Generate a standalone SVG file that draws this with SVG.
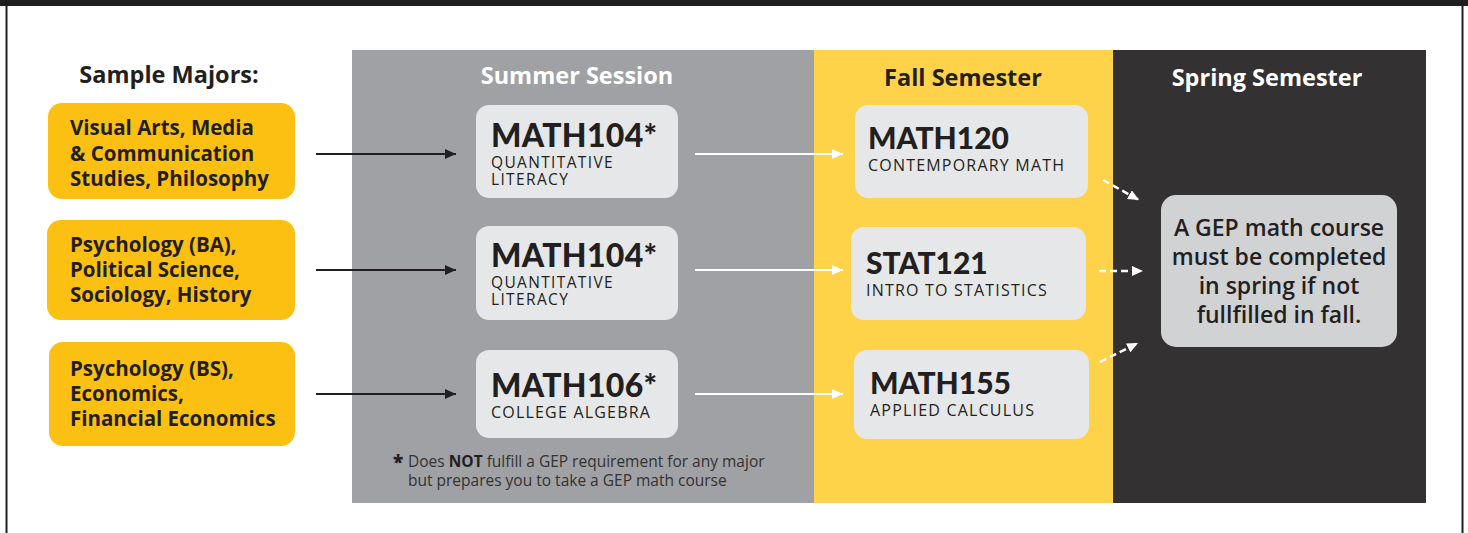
<svg xmlns="http://www.w3.org/2000/svg" width="1468" height="533" viewBox="0 0 1468 533">
<style>
.f{font-family:"Open Sans","Liberation Sans",sans-serif}
.g{font-family:Lato,"Liberation Sans",sans-serif}
.maj{fill:#FBC012}
.course{fill:#E6E7E8}
.mt{font-weight:700;font-size:20.5px;fill:#231F20}
.code{font-weight:900;font-size:32px;fill:#231F20;letter-spacing:0.3px}
.code2{font-weight:900;font-size:30px;fill:#231F20}
.sub{font-weight:400;font-size:16px;fill:#231F20;letter-spacing:1.2px}
.sub2{font-weight:400;font-size:15.5px;fill:#231F20;letter-spacing:1.35px}
.hdr{font-weight:700;font-size:23.5px;text-anchor:middle}
.note{font-weight:600;font-size:23px;fill:#231F20;text-anchor:middle}
.foot{font-weight:400;font-size:15.5px;fill:#333132}
.blk{stroke:#231F20;stroke-width:2;fill:none}
.wht{stroke:#FFFFFF;stroke-width:2;fill:none}
.dash{stroke:#FFFFFF;stroke-width:2.5;fill:none;stroke-dasharray:7 4}
</style>
<defs>
<marker id="ab" markerUnits="userSpaceOnUse" markerWidth="11" markerHeight="10" refX="11" refY="5" orient="auto"><path d="M0,0 L11,5 L0,10 z" fill="#231F20"/></marker>
<marker id="aw" markerUnits="userSpaceOnUse" markerWidth="11" markerHeight="10" refX="11" refY="5" orient="auto"><path d="M0,0 L11,5 L0,10 z" fill="#FFFFFF"/></marker>
</defs>
<rect x="0" y="0" width="1468" height="533" fill="#FFFFFF"/>
<g id="frame">
<rect x="0" y="0" width="1468" height="6" fill="#231F20"/>
<rect x="5.5" y="0" width="2" height="533" fill="#231F20"/>
<rect x="1461.5" y="0" width="2" height="533" fill="#231F20"/>
</g>
<g id="panels">
<rect x="352" y="50" width="462" height="453" fill="#A0A1A4"/>
<rect x="814" y="50" width="299" height="453" fill="#FED249"/>
<rect x="1113" y="50" width="313" height="453" fill="#333132"/>
<text class="f hdr" x="577" y="84" fill="#FFFFFF">Summer Session</text>
<text class="f hdr" x="963" y="86" fill="#231F20">Fall Semester</text>
<text class="f hdr" x="1267" y="86" fill="#FFFFFF">Spring Semester</text>
</g>
<text class="f" x="169" y="83" font-size="23.5" font-weight="700" fill="#231F20" text-anchor="middle">Sample Majors:</text>
<g id="major1">
<rect class="maj" x="48" y="103" width="247" height="96" rx="14"/>
<text class="f mt" x="70" y="135">Visual Arts, Media</text>
<text class="f mt" x="70" y="161">&amp; Communication</text>
<text class="f mt" x="70" y="186">Studies, Philosophy</text>
</g>
<g id="major2">
<rect class="maj" x="47" y="220" width="248" height="100" rx="14"/>
<text class="f mt" x="70" y="252">Psychology (BA),</text>
<text class="f mt" x="70" y="277">Political Science,</text>
<text class="f mt" x="70" y="302">Sociology, History</text>
</g>
<g id="major3">
<rect class="maj" x="49" y="342" width="246" height="104" rx="14"/>
<text class="f mt" x="70" y="376">Psychology (BS),</text>
<text class="f mt" x="70" y="401">Economics,</text>
<text class="f mt" x="70" y="426">Financial Economics</text>
</g>
<g id="sum1">
<rect class="course" x="476" y="105" width="202" height="93" rx="13"/>
<text class="g code" x="491" y="147">MATH104*</text>
<text class="f sub2"><tspan x="491" y="168">QUANTITATIVE</tspan><tspan x="491" y="185">LITERACY</tspan></text>
</g>
<g id="sum2">
<rect class="course" x="476" y="226" width="202" height="94" rx="13"/>
<text class="g code" x="491" y="267">MATH104*</text>
<text class="f sub2"><tspan x="491" y="288">QUANTITATIVE</tspan><tspan x="491" y="305">LITERACY</tspan></text>
</g>
<g id="sum3">
<rect class="course" x="476" y="350" width="202" height="88" rx="13"/>
<text class="g code" x="491" y="397">MATH106*</text>
<text class="f sub" x="491" y="418">COLLEGE ALGEBRA</text>
</g>
<g id="footnote">
<text class="f foot"><tspan x="393" y="469" font-size="19" font-weight="800" fill="#231F20">*</tspan><tspan x="408" y="467">Does </tspan><tspan font-weight="700" fill="#231F20">NOT</tspan><tspan> fulfill a GEP requirement for any major</tspan><tspan x="408" y="486">but prepares you to take a GEP math course</tspan></text>
</g>
<g id="fall1">
<rect class="course" x="855" y="105" width="233" height="93" rx="13"/>
<text class="g code2" x="868" y="149">MATH120</text>
<text class="f sub" x="868" y="171">CONTEMPORARY MATH</text>
</g>
<g id="fall2">
<rect class="course" x="851" y="227" width="235" height="93" rx="13"/>
<text class="g code2" x="866" y="274">STAT121</text>
<text class="f sub" x="866" y="296">INTRO TO STATISTICS</text>
</g>
<g id="fall3">
<rect class="course" x="854" y="350" width="235" height="89" rx="13"/>
<text class="g code2" x="870" y="394">MATH155</text>
<text class="f sub" x="870" y="416">APPLIED CALCULUS</text>
</g>
<g id="spring-note">
<rect x="1161" y="195" width="236" height="152" rx="15" fill="#D1D2D4"/>
<text class="f note" x="1279" y="236">A GEP math course</text>
<text class="f note" x="1279" y="265">must be completed</text>
<text class="f note" x="1279" y="294">in spring if not</text>
<text class="f note" x="1279" y="323">fullfilled in fall.</text>
</g>
<g id="connectors">
<line class="blk" x1="316" y1="154" x2="456" y2="154" marker-end="url(#ab)"/>
<line class="blk" x1="316" y1="270" x2="456" y2="270" marker-end="url(#ab)"/>
<line class="blk" x1="316" y1="394" x2="456" y2="394" marker-end="url(#ab)"/>
<line class="wht" x1="695" y1="154" x2="843" y2="154" marker-end="url(#aw)"/>
<line class="wht" x1="695" y1="270" x2="843" y2="270" marker-end="url(#aw)"/>
<line class="wht" x1="695" y1="394" x2="843" y2="394" marker-end="url(#aw)"/>
<line class="dash" x1="1103" y1="180" x2="1139" y2="200" marker-end="url(#aw)"/>
<line class="dash" x1="1099" y1="271" x2="1143" y2="271" marker-end="url(#aw)"/>
<line class="dash" x1="1100" y1="362" x2="1138" y2="343" marker-end="url(#aw)"/>
</g>
</svg>
